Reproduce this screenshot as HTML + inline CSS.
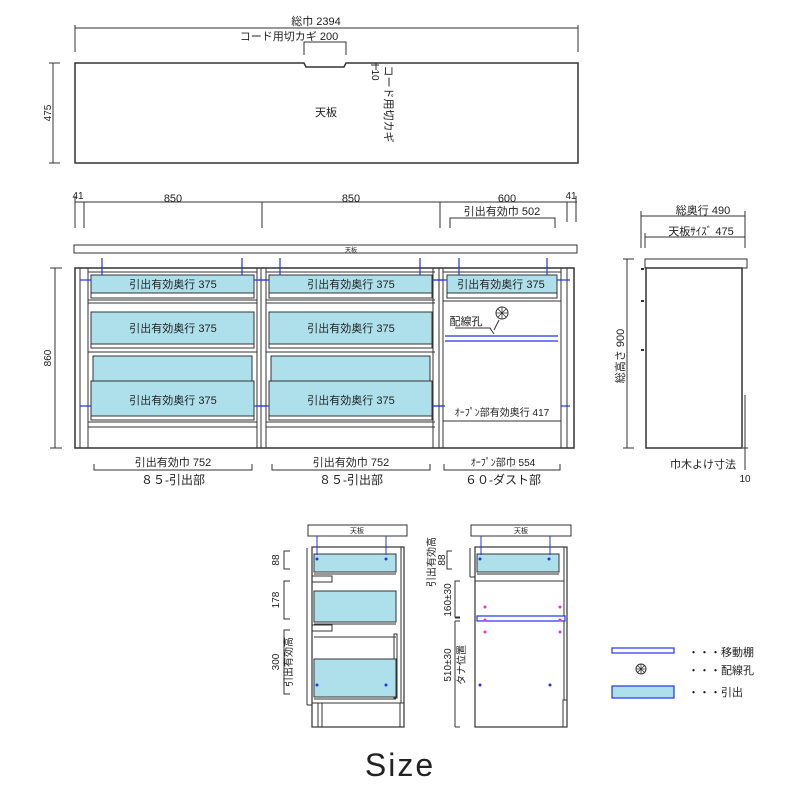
<!DOCTYPE html>
<html><head><meta charset="utf-8"><style>
html,body{margin:0;padding:0;background:#fff;width:800px;height:800px;overflow:hidden}
svg{display:block}
text{font-family:"Liberation Sans","Noto Sans CJK JP",sans-serif;fill:#222}
</style></head><body>
<svg width="800" height="800" viewBox="0 0 800 800" xmlns="http://www.w3.org/2000/svg">
<g stroke="#333" fill="none" stroke-width="1">
<line x1="75" y1="28" x2="578" y2="28"/><line x1="75" y1="25" x2="75" y2="52"/><line x1="578" y1="25" x2="578" y2="52"/>
<polyline points="304,55 304,42 346,42 346,55"/>
<path d="M75,63 H304 L306,67 H344 L346,63 H578 V163 H75 Z" stroke-width="1.5"/>
<line x1="53" y1="63" x2="53" y2="163"/><line x1="49" y1="63" x2="60" y2="63"/><line x1="49" y1="163" x2="60" y2="163"/>
<line x1="371" y1="65" x2="379" y2="65"/><line x1="376" y1="63" x2="376" y2="70"/>
<line x1="75" y1="202" x2="577" y2="202"/>
<line x1="75" y1="196" x2="75" y2="228"/><line x1="84" y1="202" x2="84" y2="228"/><line x1="262" y1="202" x2="262" y2="228"/>
<line x1="440" y1="202" x2="440" y2="228"/><line x1="567" y1="202" x2="567" y2="222"/><line x1="576" y1="196" x2="576" y2="222"/>
<polyline points="450,228 450,218 555,218 555,228"/>
<rect x="74" y="245" width="503" height="8"/>
<line x1="55" y1="268" x2="55" y2="448"/><line x1="50" y1="268" x2="62" y2="268"/><line x1="50" y1="448" x2="62" y2="448"/>
<rect x="75" y="268" width="499" height="180" stroke-width="1.5"/>
<line x1="80" y1="268" x2="80" y2="448"/><line x1="88" y1="268" x2="88" y2="448"/>
<line x1="257" y1="268" x2="257" y2="448"/><line x1="261" y1="268" x2="261" y2="448"/><line x1="266" y1="268" x2="266" y2="448"/>
<line x1="433" y1="268" x2="433" y2="448"/><line x1="439" y1="268" x2="439" y2="448"/><line x1="443" y1="268" x2="443" y2="448"/>
<line x1="561" y1="268" x2="561" y2="448"/><line x1="567" y1="268" x2="567" y2="448"/>
</g>
<g id="sec">
<g stroke="#333" stroke-width="1">
<line x1="88" y1="272" x2="257" y2="272"/>
<rect x="91" y="275" width="163" height="18" fill="#aee0ec"/>
<rect x="91" y="293" width="163" height="5" fill="#fff"/>
<line x1="88" y1="300" x2="257" y2="300"/><line x1="88" y1="303" x2="257" y2="303"/>
<rect x="91" y="312" width="163" height="32" fill="#aee0ec"/>
<rect x="91" y="344" width="163" height="4" fill="#fff"/>
<line x1="88" y1="352" x2="257" y2="352"/>
<rect x="93" y="356" width="159" height="25" fill="#aee0ec"/>
<rect x="91" y="381" width="163" height="35" fill="#aee0ec"/>
<rect x="91" y="416" width="163" height="4" fill="#fff"/>
<line x1="88" y1="422" x2="257" y2="422"/><line x1="88" y1="427" x2="257" y2="427"/>
</g>
<g stroke="#2233ee" stroke-width="1.2">
<line x1="102" y1="258" x2="102" y2="275"/><line x1="242" y1="258" x2="242" y2="275"/>
<line x1="80" y1="280" x2="91" y2="280"/><line x1="254" y1="280" x2="266" y2="280"/>
<line x1="80" y1="406" x2="91" y2="406"/><line x1="254" y1="406" x2="266" y2="406"/>
</g>
<text x="173" y="288" font-size="11" text-anchor="middle">引出有効奥行 375</text>
<text x="173" y="332" font-size="11" text-anchor="middle">引出有効奥行 375</text>
<text x="173" y="404" font-size="11" text-anchor="middle">引出有効奥行 375</text>
</g>
<use href="#sec" x="178"/>
<g stroke="#333" stroke-width="1" fill="none">
<line x1="443" y1="272" x2="561" y2="272"/>
<rect x="447" y="275" width="110" height="18" fill="#aee0ec"/>
<rect x="447" y="293" width="110" height="5" fill="#fff"/>
<line x1="443" y1="301" x2="561" y2="301"/>
<line x1="443" y1="421" x2="561" y2="421"/>
<circle cx="502" cy="313" r="6" fill="#fff"/>
<path d="M496,313H508M502,307V319M498,309L506,317M506,309L498,317" stroke-width="0.8"/>
<polyline points="455,328 490,328 494,334"/>
<line x1="494" y1="330" x2="499" y2="320"/>
</g>
<g stroke="#2233ee" stroke-width="1.2">
<line x1="459" y1="258" x2="459" y2="275"/><line x1="547" y1="258" x2="547" y2="275"/>
<line x1="433" y1="280" x2="447" y2="280"/><line x1="557" y1="280" x2="570" y2="280"/>
<line x1="445" y1="336" x2="558" y2="336"/><line x1="445" y1="341" x2="558" y2="341"/>
<line x1="433" y1="406" x2="445" y2="406"/><line x1="561" y1="406" x2="570" y2="406"/>
</g>
<text x="501" y="288" font-size="11" text-anchor="middle">引出有効奥行 375</text>
<text x="466" y="325" font-size="11" text-anchor="middle">配線孔</text>
<text x="502" y="416" font-size="10" text-anchor="middle">ｵｰﾌﾟﾝ部有効奥行 417</text>
<g stroke="#333" fill="none">
<polyline points="94,464 94,470 252,470 252,464"/><polyline points="272,464 272,470 430,470 430,464"/><polyline points="444,464 444,470 560,470 560,464"/>
</g>
<text x="173" y="466" font-size="11" text-anchor="middle">引出有効巾 752</text>
<text x="351" y="466" font-size="11" text-anchor="middle">引出有効巾 752</text>
<text x="503" y="466" font-size="10" text-anchor="middle">ｵｰﾌﾟﾝ部巾 554</text>
<text x="173" y="484" font-size="12" text-anchor="middle">８５-引出部</text>
<text x="351" y="484" font-size="12" text-anchor="middle">８５-引出部</text>
<text x="503" y="484" font-size="12" text-anchor="middle">６０-ダスト部</text>
<text x="316" y="25" font-size="11" text-anchor="middle">総巾 2394</text>
<text x="289" y="40" font-size="11" text-anchor="middle">コード用切カギ 200</text>
<text x="326" y="116" font-size="11" text-anchor="middle">天板</text>
<text transform="translate(51,113) rotate(-90)" font-size="10" text-anchor="middle">475</text>
<text transform="translate(372,75) rotate(90)" font-size="10" text-anchor="middle">10</text>
<text transform="translate(385,104) rotate(90)" font-size="11" text-anchor="middle">コード用切カギ</text>
<text x="78" y="199" font-size="10" text-anchor="middle">41</text>
<text x="173" y="202" font-size="11" text-anchor="middle">850</text>
<text x="351" y="202" font-size="11" text-anchor="middle">850</text>
<text x="507" y="202" font-size="11" text-anchor="middle">600</text>
<text x="571" y="199" font-size="10" text-anchor="middle">41</text>
<text x="502" y="215" font-size="11" text-anchor="middle">引出有効巾 502</text>
<text x="351" y="252" font-size="6" text-anchor="middle">天板</text>
<text transform="translate(51,358) rotate(-90)" font-size="10" text-anchor="middle">860</text>
<g stroke="#333" fill="none">
<line x1="641" y1="216" x2="745" y2="216"/><line x1="641" y1="211" x2="641" y2="248"/><line x1="745" y1="211" x2="745" y2="248"/>
<line x1="645" y1="237" x2="745" y2="237"/><line x1="645" y1="233" x2="645" y2="248"/>
<rect x="645" y="259" width="102" height="9"/>
<rect x="646" y="268" width="96" height="180" stroke-width="1.5"/>
<line x1="627" y1="259" x2="627" y2="448"/><line x1="623" y1="259" x2="634" y2="259"/><line x1="623" y1="448" x2="634" y2="448"/>
<line x1="745" y1="395" x2="745" y2="470"/><line x1="743" y1="448" x2="748" y2="448"/>
</g>
<g fill="#333"><rect x="641" y="268" width="3" height="2"/><rect x="641" y="300" width="3" height="2"/><rect x="641" y="349" width="3" height="2"/></g>
<text x="703" y="214" font-size="11" text-anchor="middle">総奥行 490</text>
<text x="701" y="235" font-size="11" text-anchor="middle">天板ｻｲｽﾞ 475</text>
<text transform="translate(624,356) rotate(-90)" font-size="11" text-anchor="middle">総高さ 900</text>
<text x="703" y="468" font-size="11" text-anchor="middle">巾木よけ寸法</text>
<text x="745" y="482" font-size="10" text-anchor="middle">10</text>
<g stroke="#333" fill="none">
<rect x="308" y="525" width="99" height="11"/>
<rect x="312" y="547" width="92" height="180" stroke-width="1.2"/>
<line x1="401" y1="547" x2="401" y2="703"/>
<line x1="307" y1="548" x2="307" y2="705"/><line x1="307" y1="705" x2="312" y2="705"/>
<rect x="314" y="554" width="82" height="18" fill="#aee0ec"/><line x1="314" y1="574" x2="396" y2="574"/>
<rect x="314" y="591" width="82" height="31" fill="#aee0ec"/><line x1="314" y1="624" x2="396" y2="624"/>
<line x1="314" y1="637" x2="396" y2="637"/><rect x="394" y="634" width="3" height="64"/>
<rect x="314" y="659" width="82" height="38" fill="#aee0ec"/><line x1="314" y1="699" x2="396" y2="699"/>
<rect x="312" y="576" width="20" height="6"/><rect x="312" y="625" width="20" height="6"/>
<line x1="312" y1="703" x2="404" y2="703"/><line x1="318" y1="703" x2="318" y2="727"/><line x1="322" y1="703" x2="322" y2="727"/><line x1="400" y1="703" x2="400" y2="727"/>
<polyline points="290,551 284,551 284,569 290,569"/><polyline points="290,581 284,581 284,619 290,619"/><polyline points="290,630 284,630 284,694 290,694"/>
</g>
<g stroke="#2233ee"><line x1="317" y1="536" x2="317" y2="555"/><line x1="386" y1="536" x2="386" y2="555"/></g>
<g fill="#2233ee"><circle cx="317" cy="559" r="1.5"/><circle cx="386" cy="559" r="1.5"/><circle cx="317" cy="685" r="1.5"/><circle cx="386" cy="685" r="1.5"/></g>
<text x="357" y="533" font-size="7" text-anchor="middle">天板</text>
<text transform="translate(279,560) rotate(-90)" font-size="10" text-anchor="middle">88</text>
<text transform="translate(279,600) rotate(-90)" font-size="10" text-anchor="middle">178</text>
<text transform="translate(279,662) rotate(-90)" font-size="10" text-anchor="middle">300</text>
<text transform="translate(292,662) rotate(-90)" font-size="10" text-anchor="middle">引出有効高</text>
<g stroke="#333" fill="none">
<rect x="471" y="525" width="100" height="11"/>
<rect x="475" y="547" width="92" height="180" stroke-width="1.2"/>
<line x1="564" y1="547" x2="564" y2="700"/><rect x="563" y="700" width="4" height="27"/>
<line x1="470" y1="548" x2="470" y2="577"/><line x1="470" y1="577" x2="475" y2="577"/>
<rect x="477" y="554" width="82" height="18" fill="#aee0ec"/><line x1="477" y1="574" x2="559" y2="574"/>
<line x1="475" y1="581" x2="564" y2="581"/>
<polyline points="452,551 447,551 447,569 452,569"/>
<polyline points="460,581 455,581 455,617 460,617"/>
<line x1="455" y1="618" x2="460" y2="618"/><line x1="455" y1="621" x2="455" y2="727"/><line x1="455" y1="621" x2="460" y2="621"/><line x1="455" y1="727" x2="460" y2="727"/>
</g>
<rect x="477" y="616" width="88" height="5" fill="#fff" stroke="#2233ee" stroke-width="1.2"/>
<g stroke="#2233ee"><line x1="481" y1="536" x2="481" y2="555"/><line x1="550" y1="536" x2="550" y2="555"/></g>
<g fill="#2233ee"><circle cx="480" cy="559" r="1.5"/><circle cx="549" cy="559" r="1.5"/><circle cx="480" cy="685" r="1.5"/><circle cx="550" cy="685" r="1.5"/></g>
<g fill="#ee33cc"><circle cx="485" cy="607" r="1.5"/><circle cx="560" cy="607" r="1.5"/><circle cx="485" cy="620" r="1.5"/><circle cx="560" cy="620" r="1.5"/><circle cx="485" cy="632" r="1.5"/><circle cx="560" cy="632" r="1.5"/></g>
<text x="521" y="533" font-size="7" text-anchor="middle">天板</text>
<text transform="translate(435,562) rotate(-90)" font-size="10" text-anchor="middle">引出有効高</text>
<text transform="translate(445,560) rotate(-90)" font-size="10" text-anchor="middle">88</text>
<text transform="translate(451,600) rotate(-90)" font-size="10" text-anchor="middle">160±30</text>
<text transform="translate(451,665) rotate(-90)" font-size="10" text-anchor="middle">510±30</text>
<text transform="translate(465,665) rotate(-90)" font-size="10" text-anchor="middle">タナ位置</text>
<rect x="612" y="648" width="62" height="5" fill="#fff" stroke="#2233ee" stroke-width="1.2"/>
<circle cx="641" cy="669" r="5" fill="#fff" stroke="#333"/>
<path d="M636,669H646M641,664V674M637.5,665.5L644.5,672.5M644.5,665.5L637.5,672.5" stroke="#333" stroke-width="0.8"/>
<rect x="612" y="686" width="62" height="12" fill="#aee0ec" stroke="#2233ee" stroke-width="1.2"/>
<text x="688" y="656" font-size="11">・・・移動棚</text>
<text x="688" y="674" font-size="11">・・・配線孔</text>
<text x="688" y="696" font-size="11">・・・引出</text>
<text x="400" y="776" font-size="32" text-anchor="middle" letter-spacing="2">Size</text>
</svg>
</body></html>
